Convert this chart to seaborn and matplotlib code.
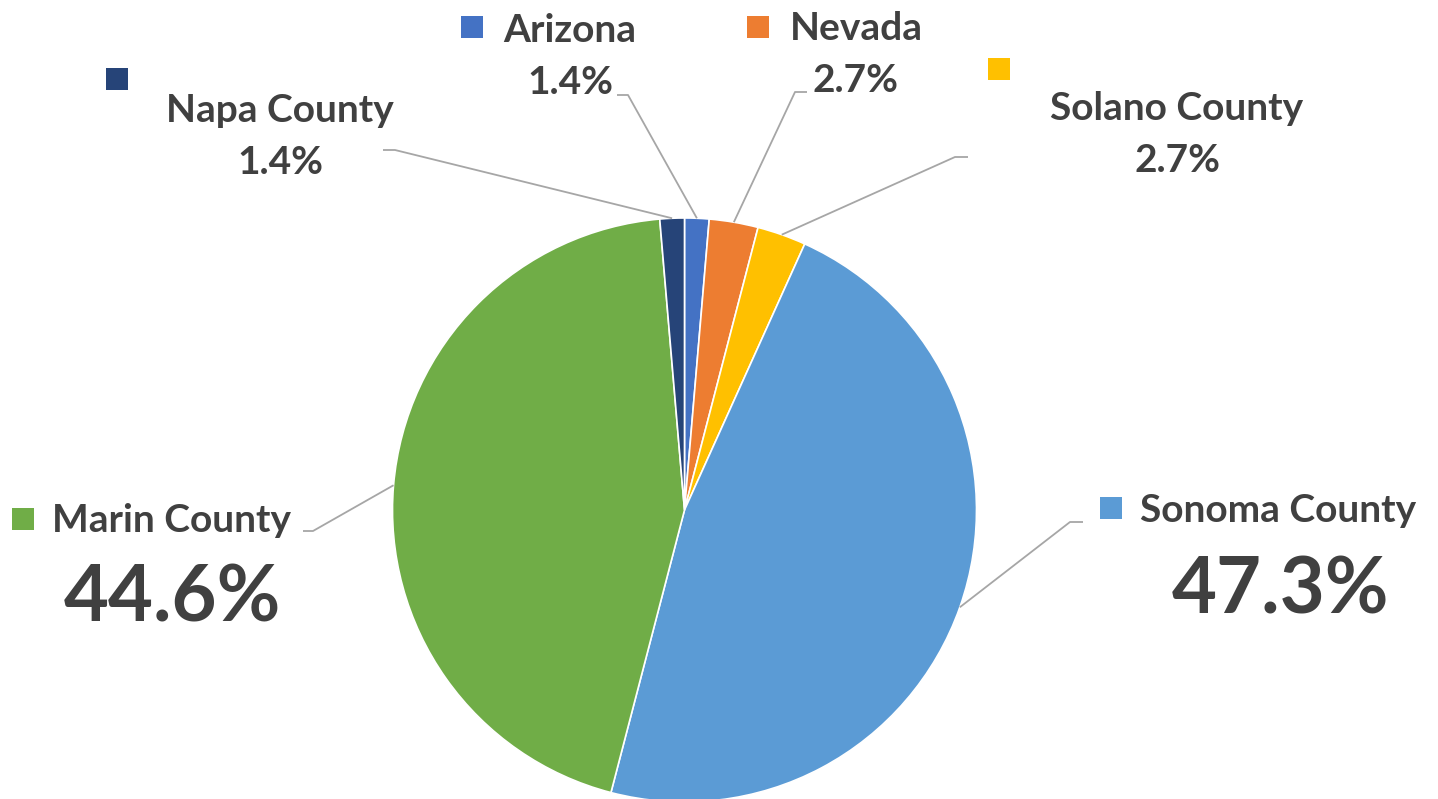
import numpy as np
import matplotlib
matplotlib.use("Agg")
import matplotlib.pyplot as plt
import seaborn as sns

# Data (clockwise from 12 o'clock)
regions = ["Arizona", "Nevada", "Solano County", "Sonoma County", "Marin County", "Napa County"]
counts = [1, 2, 2, 35, 33, 1]
colors = ["#4472C4", "#ED7D31", "#FFC000", "#5B9BD5", "#70AD47", "#264478"]

W, H = 1438, 799
CX, CY, R = 684.5, 510, 292
TEXT = "#404040"
LINE = "#A6A6A6"

sns.set_theme(style="white")
plt.rcParams["font.family"] = ["Lato", "DejaVu Sans"]

# label layout in pixel coords (y measured from top)
layout = {
    "Arizona":       dict(sq=(472, 27), name=(503, 30, "left"), pct=(570, 82), big=False, elbow=(628, 95), end=(617, 95)),
    "Nevada":        dict(sq=(758, 27), name=(790, 29, "left"), pct=(855, 80), big=False, elbow=(795, 92), end=(807, 92)),
    "Solano County": dict(sq=(999, 69), name=(1177, 108, "center"), pct=(1177, 160), big=False, elbow=(955, 157), end=(968, 157)),
    "Sonoma County": dict(sq=(1111, 508), name=(1140, 511, "left"), pct=(1280, 592), big=True, elbow=(1070, 522), end=(1083, 522)),
    "Marin County":  dict(sq=(23, 519), name=(52, 520, "left"), pct=(172, 600), big=True, elbow=(313, 531), end=(303, 531)),
    "Napa County":   dict(sq=(117, 79), name=(280, 110, "center"), pct=(280, 162), big=False, elbow=(395, 150), end=(383, 150)),
}


def Y(py):
    return H - py


fig = plt.figure(figsize=(W / 100, H / 100), dpi=100)
ax = fig.add_axes([0, 0, 1, 1])

wedges, _ = ax.pie(counts, colors=colors, startangle=90, counterclock=False,
                   center=(CX, Y(CY)), radius=R,
                   wedgeprops=dict(edgecolor="white", linewidth=1.2))

ax.set_xlim(0, W)
ax.set_ylim(0, H)
ax.set_aspect("equal")
ax.axis("off")

total = sum(counts)
for w, name, c in zip(wedges, regions, counts):
    lay = layout[name]
    mid = np.deg2rad((w.theta1 + w.theta2) / 2)
    px, py = CX + R * np.cos(mid), Y(CY) + R * np.sin(mid)
    ex, ey = lay["elbow"]
    fx, fy = lay["end"]
    ax.plot([px, ex, fx], [py, Y(ey), Y(fy)], color=LINE, lw=1.3, solid_capstyle="butt", zorder=1)

    sx, sy = lay["sq"]
    ax.scatter([sx], [Y(sy)], marker="s", s=250, color=w.get_facecolor(), linewidths=0, zorder=3)

    nx, ny, ha = lay["name"]
    ax.text(nx, Y(ny), name, ha=ha, va="center", fontsize=28, fontweight="bold", color=TEXT)

    pct = f"{100 * c / total:.1f}%"
    qx, qy = lay["pct"]
    ax.text(qx, Y(qy), pct, ha="center", va="center",
            fontsize=56 if lay["big"] else 28, fontweight="bold", color=TEXT)

fig.savefig("out.png", dpi=100, facecolor="white")
